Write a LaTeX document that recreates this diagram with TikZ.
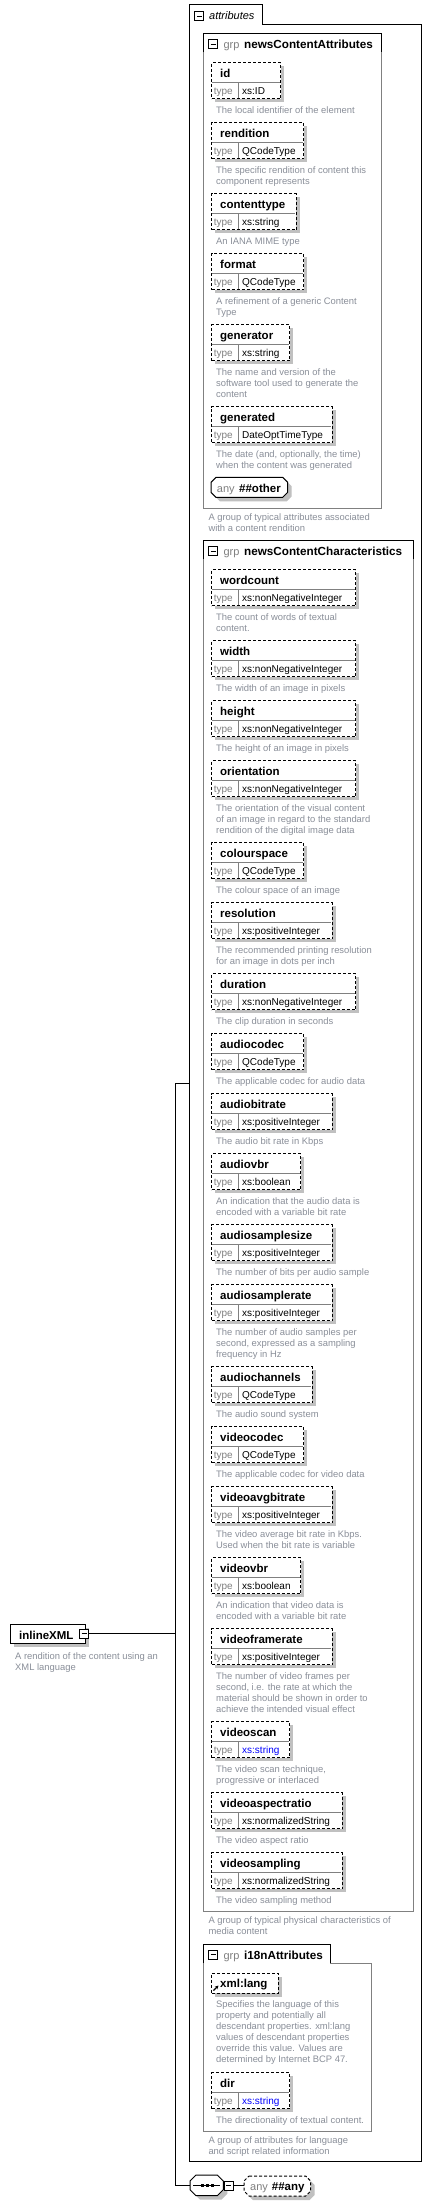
\documentclass[tikz,border=0pt]{standalone}
\usepackage{fontspec}
\setmainfont{Liberation Sans}
\usetikzlibrary{arrows.meta}
\definecolor{descc}{RGB}{138,143,153}
\definecolor{typec}{RGB}{128,128,128}
\definecolor{glinec}{RGB}{128,128,128}
\definecolor{shc}{RGB}{192,192,192}
\definecolor{bluec}{RGB}{0,0,255}
\tikzset{
  elbox/.style={draw, dash pattern=on 3pt off 2pt, line width=1pt, fill=white, inner sep=0pt, minimum height=36pt},
  refbox/.style={draw, dash pattern=on 3pt off 2pt, line width=1pt, fill=white, inner sep=0pt, minimum height=20pt},
  sepl/.style={draw=glinec, line width=1pt},
  gline/.style={draw=glinec, line width=1pt},
  hline/.style={draw=black, line width=1pt},
  nm/.style={anchor=base west, inner sep=0pt, font=\fontsize{11.5}{13}\selectfont\bfseries},
  tyl/.style={anchor=base west, inner sep=0pt, text=typec, font=\fontsize{10}{12}\selectfont},
  tyv/.style={anchor=base west, inner sep=0pt, font=\fontsize{10}{12}\selectfont},
  dsc/.style={anchor=base west, inner sep=0pt, text=descc, font=\fontsize{9.4}{11}\selectfont},
  grpl/.style={anchor=base west, inner sep=0pt, text=typec, font=\fontsize{11}{13}\selectfont},
  grpn/.style={anchor=base west, inner sep=0pt, font=\fontsize{11.7}{13}\selectfont\bfseries},
  conn/.style={draw=black, line width=1pt},
}
\newcommand\Dsc[4]{\foreach \l [count=\i from 0] in {#4} {\node[dsc] (#1-d\i) at (#2,{#3+11*\i}) {\l};}}
\newcommand\Minus[2]{\draw[line width=0.8pt, fill=white] ({#1-4.5},{#2-4.5}) rectangle ({#1+4.5},{#2+4.5});
  \draw[line width=0.8pt] ({#1-2.5},{#2}) -- ({#1+2.5},{#2});}
\newcommand\El[6]{%
  \fill[shc] (215,{#2+4}) rectangle ({#3+4},{#2+40});
  \node[elbox, minimum width={#3-211}, anchor=north west] (#1) at (211,#2) {};
  \draw[sepl] (211.5,{#2+20}) -- ({#3-0.5},{#2+20});
  \draw[sepl] (238.3,{#2+20}) -- (238.3,{#2+35.5});
  \node[nm] (#1-n) at (220,{#2+14.8}) {#4};
  \node[tyl] (#1-t) at (213.7,{#2+32}) {type};
  \node[tyv] (#1-v) at (242,{#2+32}) {#5};
  \Dsc{#1}{216}{#2+51}{#6}}
\newcommand\Grp[7]{%
  \draw[gline, fill=white] (203.3,{#2+19}) rectangle (#4,#5);
  \fill[white] (203.8,#2) rectangle ({#3-0.5},{#2+19.5});
  \draw[hline] (203.3,{#2+19}) -- (203.3,#2) -- (#3,#2) -- (#3,{#2+19});
  \Minus{213.2}{#2+10.7}
  \node[grpl] (#1-g) at (223.3,{#2+15}) {grp};
  \node[grpn] (#1-n) at (244,{#2+15}) {#6};
  \Dsc{#1}{208.3}{#5+11.7}{#7}}
\newcommand\Oct[6]{% x1 y1 x2 y2 chamfer style
  \path[#6] ({#1+#5},#2) -- ({#3-#5},#2) -- (#3,{#2+#5}) -- (#3,{#4-#5}) -- ({#3-#5},#4) -- ({#1+#5},#4) -- (#1,{#4-#5}) -- (#1,{#2+#5}) -- cycle;}
\begin{document}
\begin{tikzpicture}[x=1pt,y=-1pt]
\useasboundingbox[fill=white] (0,0) rectangle (432,2205);
% attributes container
\draw[hline] (189.3,24.3) -- (189.3,5) -- (262.3,5) -- (262.3,24.3) -- (421.7,24.3) -- (421.7,2161.7) -- (189.3,2161.7) -- cycle;
\Minus{199.3}{16}
\node[anchor=base west, inner sep=0pt, font=\fontsize{11}{13}\selectfont\itshape] (attrt) at (209,19.5) {attributes};
\coordinate (attrW) at (189.3,1083);
% group 1
\Grp{g1}{33.3}{381.7}{381.7}{508.3}{newsContentAttributes}{A group of typical attributes associated, with a content rendition}
\El{id}{62.3}{280}{id}{xs:ID}{The local identifier of the element}
\El{rendition}{122.3}{303.3}{rendition}{QCodeType}{The specific rendition of content this, component represents}
\El{contenttype}{193.3}{295.7}{contenttype}{xs:string}{An IANA MIME type}
\El{format}{253.3}{303.3}{format}{QCodeType}{A refinement of a generic Content, Type}
\El{generator}{324.3}{289}{generator}{xs:string}{The name and version of the, software tool used to generate the, content}
\El{generated}{406.3}{331.7}{generated}{DateOptTimeType}{{The date (and, optionally, the time)}, when the content was generated}
\Oct{215}{481.3}{291.7}{501.3}{5}{fill=shc}
\Oct{211}{477.3}{287.7}{497.3}{5}{draw=black, line width=1pt, fill=white}
\node[grpl] (anyo-a) at (216.7,492) {any};
\node[nm] (anyo-n) at (239,492) {\#\#other};
% group 2
\Grp{g2}{540.3}{413.3}{413.3}{1911.7}{newsContentCharacteristics}{A group of typical physical characteristics of, media content}
\El{wordcount}{569.3}{355}{wordcount}{xs:nonNegativeInteger}{The count of words of textual, content.}
\El{width}{640.3}{355}{width}{xs:nonNegativeInteger}{The width of an image in pixels}
\El{height}{700.3}{355}{height}{xs:nonNegativeInteger}{The height of an image in pixels}
\El{orientation}{760.3}{355}{orientation}{xs:nonNegativeInteger}{The orientation of the visual content, of an image in regard to the standard, rendition of the digital image data}
\El{colourspace}{842.3}{303.3}{colourspace}{QCodeType}{The colour space of an image}
\El{resolution}{902.3}{331.7}{resolution}{xs:positiveInteger}{The recommended printing resolution, for an image in dots per inch}
\El{duration}{973.3}{355}{duration}{xs:nonNegativeInteger}{The clip duration in seconds}
\El{audiocodec}{1033.3}{303.3}{audiocodec}{QCodeType}{The applicable codec for audio data}
\El{audiobitrate}{1093.3}{331.7}{audiobitrate}{xs:positiveInteger}{The audio bit rate in Kbps}
\El{audiovbr}{1153.3}{300}{audiovbr}{xs:boolean}{An indication that the audio data is, encoded with a variable bit rate}
\El{audiosamplesize}{1224.3}{331.7}{audiosamplesize}{xs:positiveInteger}{The number of bits per audio sample}
\El{audiosamplerate}{1284.3}{331.7}{audiosamplerate}{xs:positiveInteger}{The number of audio samples per, {second, expressed as a sampling}, frequency in Hz}
\El{audiochannels}{1366.3}{311.7}{audiochannels}{QCodeType}{The audio sound system}
\El{videocodec}{1426.3}{303.3}{videocodec}{QCodeType}{The applicable codec for video data}
\El{videoavgbitrate}{1486.3}{331.7}{videoavgbitrate}{xs:positiveInteger}{The video average bit rate in Kbps., Used when the bit rate is variable}
\El{videovbr}{1557.3}{300}{videovbr}{xs:boolean}{An indication that video data is, encoded with a variable bit rate}
\El{videoframerate}{1628.3}{331.7}{videoframerate}{xs:positiveInteger}{The number of video frames per, {second, i.e. the rate at which the}, material should be shown in order to, achieve the intended visual effect}
\El{videoscan}{1721.3}{289}{videoscan}{\textcolor{bluec}{xs:string}}{{The video scan technique,}, progressive or interlaced}
\El{videoaspectratio}{1792.3}{341.7}{videoaspectratio}{xs:normalizedString}{The video aspect ratio}
\El{videosampling}{1852.3}{341.7}{videosampling}{xs:normalizedString}{The video sampling method}
% group 3
\Grp{g3}{1944}{330.7}{371.7}{2131.7}{i18nAttributes}{A group of attributes for language, and script related information}
\fill[shc] (215,1976.7) rectangle (281.7,1996.7);
\node[refbox, minimum width=66.7pt, anchor=north west] (xmllang) at (211,1972.7) {};
\node[nm] (xmllang-n) at (220,1987.5) {xml:lang};
\draw[-{Stealth[length=3.5pt,width=3.5pt]}, line width=1.2pt] (213.5,1990.5) -- (218.5,1985.5);
\Dsc{xmllang}{216}{2007.7}{Specifies the language of this, property and potentially all, descendant properties. xml:lang, values of descendant properties, override this value. Values are, determined by Internet BCP 47.}
\El{dir}{2072.3}{289}{dir}{\textcolor{bluec}{xs:string}}{The directionality of textual content.}
% inlineXML
\fill[shc] (14,1628.3) rectangle (89,1647.3);
\node[draw, line width=1pt, fill=white, inner sep=0pt, minimum width=75pt, minimum height=19pt, anchor=north west] (inl) at (10,1624.3) {};
\node[nm] (inl-n) at (19,1639.3) {inlineXML};
\Minus{84}{1633.8}
\coordinate (inlE) at (88.5,1633.8);
\Dsc{inl}{15}{1659.3}{A rendition of the content using an, XML language}
% connectors
\coordinate (jTop) at (175,1083);
\coordinate (jBot) at (175,2185.7);
\draw[conn] (inlE) -- (jTop |- inlE);
\draw[conn] (jTop) -- (jBot);
\draw[conn] (jTop) -- (attrW);
% sequence compositor
\Oct{194}{2179}{227.3}{2199.7}{6}{fill=shc}
\Oct{190}{2175}{223.3}{2195.7}{6}{draw=black, line width=1pt, fill=white}
\coordinate (seqW) at (190,2185.7);
\draw[conn] (jBot) -- (seqW);
\draw[line width=1pt] (193,2185.7) -- (220.3,2185.7);
\foreach \k in {0,1,2} {\fill ({201+\k*5},2184.2) rectangle ({204+\k*5},2187.2);}
\Minus{228.8}{2185.7}
\Oct{248}{2180}{314.7}{2200}{5}{fill=shc}
\Oct{244}{2176}{310.7}{2196}{5}{draw=black, line width=1pt, dash pattern=on 3pt off 2pt, fill=white}
\coordinate (anyW) at (244,2185.7);
\draw[conn] (233.3,2185.7) -- (anyW);
\node[grpl] (anya-a) at (250,2190.5) {any};
\node[nm] (anya-n) at (271.7,2190.5) {\#\#any};
\end{tikzpicture}
\end{document}
